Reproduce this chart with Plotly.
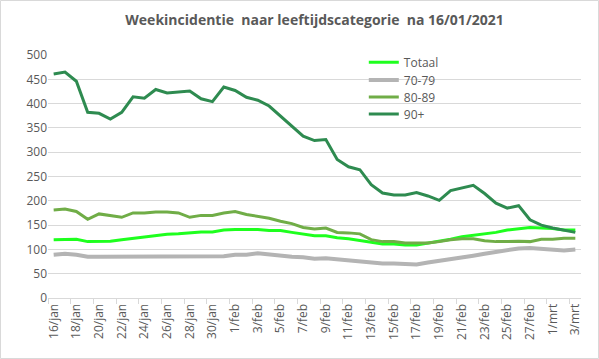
import plotly.graph_objects as go

dates = (["%d/jan" % d for d in range(16, 32)]
         + ["%d/feb" % d for d in range(1, 29)]
         + ["%d/mrt" % d for d in range(1, 4)])

totaal = [120, 121, 121, 116, 117, 117, 120, 123, 125, 128, 131, 132, 134, 136, 136, 140,
          141, 141, 141, 139, 139, 135, 132, 128, 128, 124, 122, 118, 114, 111, 111, 109,
          109, 113, 116, 121, 126, 129, 131, 135, 140, 143, 145, 144, 143, 140, 140]
age_70_79 = [89, 91, 89, 85, 85, 85, 85, 85, 85, 85, 85, 85, 85, 85, 85, 86,
             89, 89, 92, 89, 87, 85, 84, 81, 82, 80, 77, 74, 73, 71, 71, 69,
             69, 73, 76, 80, 84, 87, 91, 95, 99, 102, 103, 102, 99, 98, 100]
age_80_89 = [181, 183, 178, 162, 173, 170, 166, 175, 175, 177, 177, 175, 166, 170, 170, 175,
             178, 172, 168, 164, 158, 153, 145, 142, 144, 135, 134, 132, 120, 116, 116, 113,
             113, 113, 116, 120, 122, 122, 118, 116, 116, 117, 116, 121, 121, 123, 123]
age_90 = [461, 465, 446, 382, 380, 368, 382, 414, 411, 429, 422, 424, 426, 410, 404, 434,
          427, 413, 407, 395, 375, 354, 333, 324, 326, 285, 270, 264, 233, 216, 212, 212,
          217, 210, 201, 221, 227, 232, 215, 195, 185, 190, 161, 150, 144, 139, 135]

series = [("Totaal", totaal, "#1EFF1E", 3),
          ("70-79", age_70_79, "#B4B4B4", 4),
          ("80-89", age_80_89, "#70AD47", 3),
          ("90+", age_90, "#2E8B50", 3)]

font = "Open Sans"
L, R, T, B = 48, 18, 55, 61
W, H = 599, 359
PW, PH = W - L - R, H - T - B
legend_centers_px = [62.3, 80, 97, 114]

fig = go.Figure()
legends = {}
for k, (name, vals, col, w) in enumerate(series):
    key = "legend" if k == 0 else "legend%d" % (k + 1)
    fig.add_trace(go.Scatter(x=dates, y=vals, name=name, mode="lines",
                             line=dict(color=col, width=w), legend=key))
    legends[key] = dict(x=0.5925, y=(H - B - legend_centers_px[k]) / PH,
                        xanchor="left", yanchor="middle", bgcolor="rgba(0,0,0,0)",
                        font=dict(family=font, size=12, color="#595959"))

fig.update_layout(
    width=W, height=H,
    margin=dict(l=L, r=R, t=T, b=B, autoexpand=False),
    paper_bgcolor="white", plot_bgcolor="white",
    font=dict(family=font, size=12, color="#595959"),
    title=dict(text="<b>Weekincidentie  naar leeftijdscategorie  na 16/01/2021</b>",
               x=0.5, xref="paper", xanchor="center", y=1 - 20 / H, yanchor="middle",
               font=dict(family=font, size=14, color="#595959")),
    showlegend=True,
    **legends,
)
fig.update_xaxes(type="category", tickmode="linear", tick0=0, dtick=2,
                 tickson="boundaries", ticks="outside", ticklen=5, tickcolor="#D9D9D9",
                 tickangle=-90, showgrid=False, showline=True, linecolor="#D9D9D9",
                 linewidth=1, range=[-0.5, len(dates) - 0.5], automargin=False,
                 tickfont=dict(size=12, color="#595959"))
fig.update_yaxes(range=[0, 500], dtick=50, showgrid=True, gridcolor="#D9D9D9",
                 gridwidth=1, zeroline=False, showline=False, automargin=False,
                 tickfont=dict(size=12, color="#595959"))
fig.add_shape(type="rect", xref="paper", yref="paper",
              x0=(-L + 0.5) / PW, x1=(W - L - 0.5) / PW,
              y0=(-B + 0.5) / PH, y1=(H - B - 0.5) / PH,
              line=dict(color="#D9D9D9", width=1), layer="below")
fig.write_html("out.html", config={"displayModeBar": False},
               post_script="document.body.style.margin='0';document.body.style.overflow='hidden';")
